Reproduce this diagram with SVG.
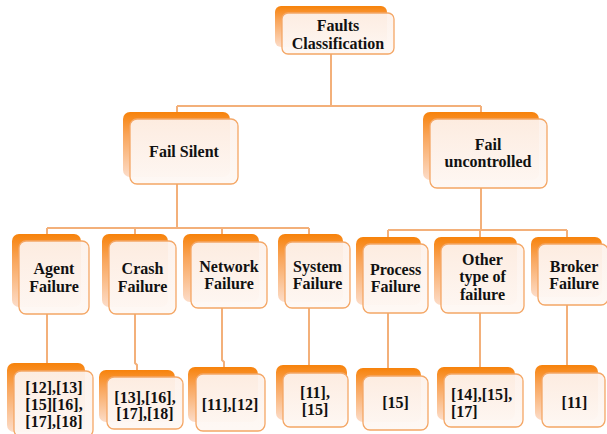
<svg xmlns="http://www.w3.org/2000/svg" width="607" height="434" viewBox="0 0 607 434">
<defs>
<linearGradient id="bg" x1="0" y1="0" x2="0" y2="1">
<stop offset="0" stop-color="#F7820A"/>
<stop offset="0.35" stop-color="#F9A55A"/>
<stop offset="1" stop-color="#FCDCC8"/>
</linearGradient>
<linearGradient id="fg" x1="0" y1="0" x2="0" y2="1">
<stop offset="0" stop-color="#FDF1EA"/>
<stop offset="1" stop-color="#FEF8F4"/>
</linearGradient>
</defs>
<style>
.b{fill:url(#bg);}
.f{fill:url(#fg);fill-opacity:0.95;stroke:#F4A766;stroke-width:1.3;}
.c{fill:none;stroke:#F3B07A;stroke-width:2;}
.t text{font-weight:bold;font-size:16px;fill:#111;text-anchor:middle;}
</style>
<rect width="607" height="434" fill="#ffffff"/>
<g id="connectors">
<path class="c" d="M331,54 V106 M177,106 H481 M177,106 V113 M481,106 V113"/>
<path class="c" d="M177,184 V228 M47,228 H309 M47,228 V234 M135,228 V234 M222,228 V234 M309,228 V234"/>
<path class="c" d="M481,188 V230 M388,230 H567 M388,230 V237 M480,230 V237 M567,230 V237"/>
<path class="c" d="M47,314 V363 M135,314 V363 L137,365 V370 M222,308 V360 L224,362 V367 M309,308 V365 M388,313 V368 M480,313 V367 M567,305 V365"/>
</g>
<g class="t" font-family="Liberation Serif, Times New Roman, DejaVu Serif, serif">
<g id="n-root"><rect class="b" x="275" y="6" width="112" height="41" rx="6"/><rect class="f" x="282" y="13" width="112" height="41" rx="6"/><text x="338" y="31">Faults</text><text x="338" y="49">Classification</text></g>
<g id="n-silent"><rect class="b" x="123" y="112" width="107" height="65" rx="7"/><rect class="f" x="130" y="119" width="108" height="65" rx="7"/><text x="184" y="157">Fail Silent</text></g>
<g id="n-uncontrolled"><rect class="b" x="423" y="112" width="116" height="68" rx="7"/><rect class="f" x="430" y="119" width="117" height="69" rx="7"/><text x="488" y="150">Fail</text><text x="488" y="167">uncontrolled</text></g>
<g id="n-agent"><rect class="b" x="12" y="234" width="69" height="73" rx="7"/><rect class="f" x="19" y="241" width="70" height="73" rx="7"/><text x="54" y="274">Agent</text><text x="54" y="292">Failure</text></g>
<g id="n-crash"><rect class="b" x="102" y="234" width="66" height="73" rx="7"/><rect class="f" x="109" y="241" width="67" height="73" rx="7"/><text x="142.5" y="274">Crash</text><text x="142.5" y="292">Failure</text></g>
<g id="n-network"><rect class="b" x="183" y="234" width="76" height="68" rx="7"/><rect class="f" x="191" y="242" width="76" height="66" rx="7"/><text x="229" y="272">Network</text><text x="229" y="289">Failure</text></g>
<g id="n-system"><rect class="b" x="278" y="234" width="65" height="68" rx="7"/><rect class="f" x="285" y="242" width="65" height="66" rx="7"/><text x="317.5" y="272">System</text><text x="317.5" y="289">Failure</text></g>
<g id="n-process"><rect class="b" x="356" y="237" width="65" height="68" rx="7"/><rect class="f" x="363" y="244" width="65" height="69" rx="7"/><text x="395.5" y="275">Process</text><text x="395.5" y="292">Failure</text></g>
<g id="n-other"><rect class="b" x="434" y="237" width="83" height="68" rx="7"/><rect class="f" x="441" y="244" width="83" height="69" rx="7"/><text x="482.5" y="265">Other</text><text x="482.5" y="282">type of</text><text x="482.5" y="300">failure</text></g>
<g id="n-broker"><rect class="b" x="531" y="237" width="71" height="60" rx="7"/><rect class="f" x="538" y="244" width="70" height="61" rx="7"/><text x="574" y="272">Broker</text><text x="574" y="289">Failure</text></g>
<g id="r-agent"><rect class="b" x="7" y="363" width="78" height="69" rx="7"/><rect class="f" x="14" y="371" width="79" height="66" rx="7"/><text x="54" y="393">[12],[13]</text><text x="54" y="410">[15][16],</text><text x="54" y="427">[17],[18]</text></g>
<g id="r-crash"><rect class="b" x="99" y="370" width="76" height="52" rx="7"/><rect class="f" x="107" y="377" width="76" height="52" rx="7"/><text x="145" y="403">[13],[16],</text><text x="145" y="419">[17],[18]</text></g>
<g id="r-network"><rect class="b" x="188" y="367" width="70" height="55" rx="7"/><rect class="f" x="196" y="374" width="69" height="57" rx="7"/><text x="230" y="410">[11],[12]</text></g>
<g id="r-system"><rect class="b" x="276" y="365" width="71" height="55" rx="7"/><rect class="f" x="283" y="373" width="65" height="54" rx="7"/><text x="315" y="398">[11],</text><text x="315" y="415">[15]</text></g>
<g id="r-process"><rect class="b" x="356" y="368" width="65" height="54" rx="7"/><rect class="f" x="363" y="376" width="65" height="54" rx="7"/><text x="395.5" y="408">[15]</text></g>
<g id="r-other"><rect class="b" x="437" y="367" width="78" height="53" rx="7"/><rect class="f" x="444" y="374" width="79" height="53" rx="7"/><text x="451" y="400" style="text-anchor:start">[14],[15],</text><text x="451" y="417" style="text-anchor:start">[17]</text></g>
<g id="r-broker"><rect class="b" x="535" y="365" width="63" height="55" rx="7"/><rect class="f" x="542" y="373" width="63" height="54" rx="7"/><text x="574.5" y="408">[11]</text></g>
</g>
</svg>
